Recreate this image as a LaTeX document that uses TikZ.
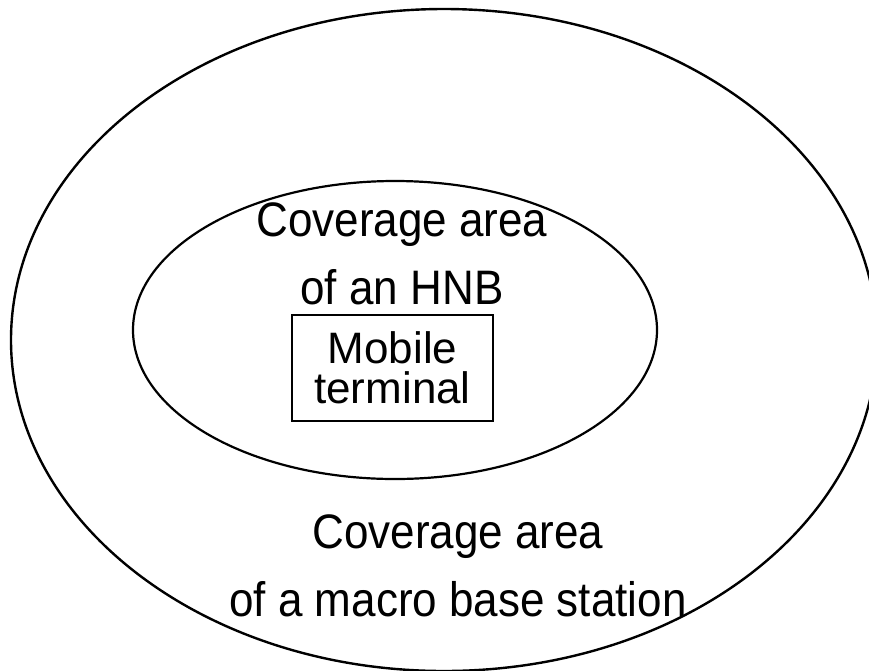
\documentclass[tikz,border=0pt]{standalone}
\usepackage{graphicx}
\usepackage{fontspec}
\setmainfont{Liberation Sans}
\usetikzlibrary{shapes.geometric}
\newcommand\stretchtxt[2]{\scalebox{1}[#1]{#2}}
\begin{document}
\begin{tikzpicture}[x=1pt,y=-1pt,
  line width=2.2pt,
  lbl/.style={anchor=base,inner sep=0pt,font=\fontsize{44}{44}\selectfont},
  box/.style={draw,line width=2pt,minimum width=201pt,minimum height=106pt,inner sep=0pt,
    align=center,font=\fontsize{44}{40}\selectfont}]
\useasboundingbox (0,0) rectangle (869,670);
\begin{scope}
\clip (0,0) rectangle (869,670);
\node[draw,ellipse,minimum width=866pt,minimum height=662pt,inner sep=0pt,line width=2.4pt] (macro) at (444,340) {};
\end{scope}
\node[draw,ellipse,minimum width=524pt,minimum height=298pt,inner sep=0pt] (hnb) at (395,330) {};
\node[box] (mt) at (392.5,368) {Mobile\\terminal};
\node[lbl] (h1) at (402,236) {\stretchtxt{1.1}{Coverage area}};
\node[lbl] (h2) at (402,304) {\stretchtxt{1.1}{of an HNB}};
\node[lbl] (m1) at (458,548) {\stretchtxt{1.1}{Coverage area}};
\node[lbl] (m2) at (458,616) {\stretchtxt{1.1}{of a macro base station}};
\end{tikzpicture}
\end{document}
